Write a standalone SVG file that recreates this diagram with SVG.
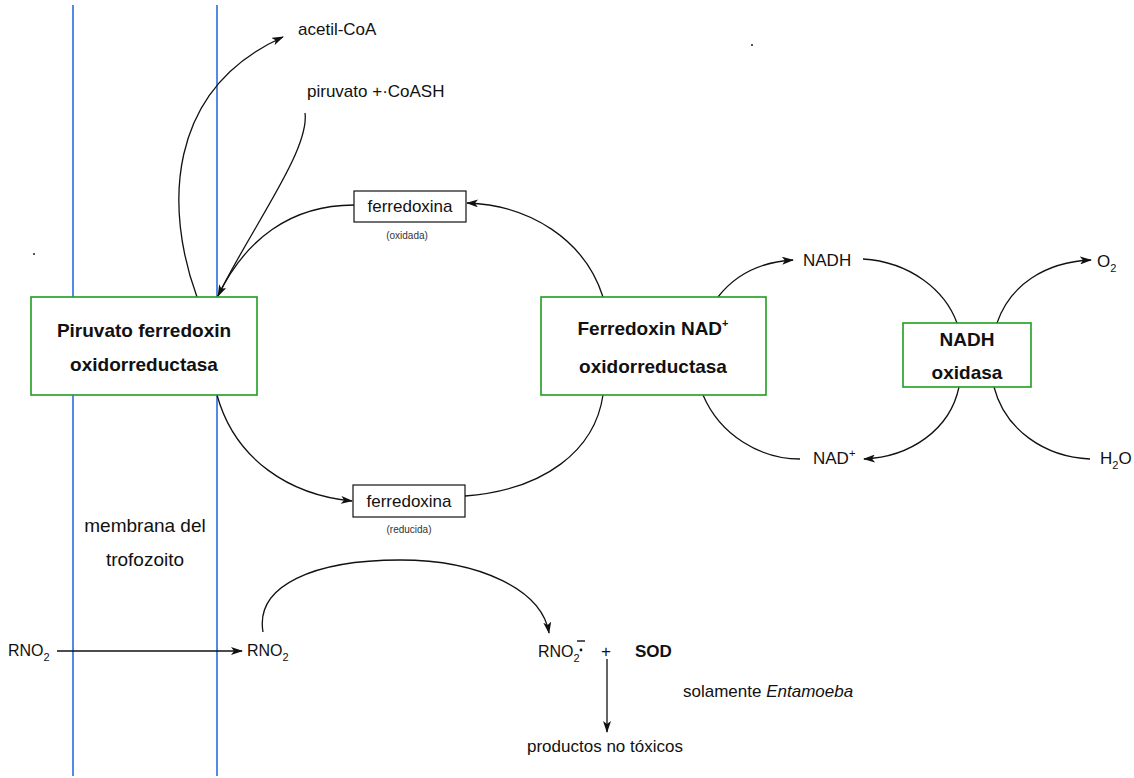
<svg xmlns="http://www.w3.org/2000/svg" width="1134" height="778" viewBox="0 0 1134 778">
<style>
text{font-family:"Liberation Sans",Arial,sans-serif;fill:#111}
.lbl{font-size:17px}
.b{font-size:19px;font-weight:bold;text-anchor:middle}
.sm{font-size:10px;text-anchor:middle;fill:#333}
.sub{font-size:11px}
.box{fill:#fff;stroke:#1e9e1e;stroke-width:1.6}
.fbox{fill:#fff;stroke:#111;stroke-width:1.2}
.mem{stroke:#2a6fdb;stroke-width:1.6}
.c{fill:none;stroke:#111;stroke-width:1.3}
.a{marker-end:url(#ah)}
</style>
<defs>
<marker id="ah" viewBox="0 0 12 8" refX="11" refY="4" markerWidth="12" markerHeight="8" markerUnits="userSpaceOnUse" orient="auto">
<path d="M0,0 L12,4 L0,8 L3,4 z" fill="#111"/>
</marker>
</defs>
<rect width="1134" height="778" fill="#fff"/>
<g id="membrane">
<line class="mem" x1="73" y1="5" x2="73" y2="776"/>
<line class="mem" x1="217" y1="5" x2="217" y2="776"/>
<text class="lbl" x="145" y="532" text-anchor="middle" style="font-size:19px">membrana del</text>
<text class="lbl" x="145" y="566" text-anchor="middle" style="font-size:19px">trofozoito</text>
</g>
<g id="connectors">
<path class="c a" d="M197,297 C165,210 165,90 283,37"/>
<path class="c a" d="M305,113 C310,150 250,230 218,296"/>
<path class="c" d="M354,205 C290,205 245,240 218,296"/>
<path class="c a" d="M603,297 C585,240 530,205 467,203"/>
<path class="c a" d="M217,395 C235,460 290,495 352,501"/>
<path class="c" d="M465,496 C545,490 595,450 603,395"/>
<path class="c a" d="M718,297 C735,275 760,262 793,260"/>
<path class="c" d="M863,259 C910,262 945,290 957,323"/>
<path class="c a" d="M997,323 C1010,285 1045,262 1091,260"/>
<path class="c a" d="M959,387 C950,430 910,457 864,459"/>
<path class="c" d="M994,387 C1005,430 1045,457 1090,459"/>
<path class="c" d="M703,395 C720,435 760,459 800,459"/>
<path class="c a" d="M57,651 L242,651"/>
<path class="c a" d="M263,632 C255,585 315,560 400,560 C480,560 542,590 549,633"/>
<path class="c a" d="M607,659 L607,732"/>
</g>
<g id="pfor">
<rect class="box" x="31" y="297" width="226" height="98"/>
<text class="b" x="144" y="337">Piruvato ferredoxin</text>
<text class="b" x="144" y="371">oxidorreductasa</text>
</g>
<g id="fnor">
<rect class="box" x="541" y="297" width="225" height="98"/>
<text class="b" x="653" y="335">Ferredoxin NAD<tspan style="font-size:11px" dy="-8">+</tspan></text>
<text class="b" x="653" y="373">oxidorreductasa</text>
</g>
<g id="nadhox">
<rect class="box" x="903" y="323" width="128" height="64"/>
<text class="b" x="967" y="346">NADH</text>
<text class="b" x="967" y="379">oxidasa</text>
</g>
<g id="fdox">
<rect class="fbox" x="354" y="191" width="112" height="31"/>
<text class="lbl" x="410" y="212" text-anchor="middle">ferredoxina</text>
<text class="sm" x="407" y="239">(oxidada)</text>
</g>
<g id="fdred">
<rect class="fbox" x="353" y="485" width="112" height="32"/>
<text class="lbl" x="409" y="507" text-anchor="middle">ferredoxina</text>
<text class="sm" x="409" y="533">(reducida)</text>
</g>
<g id="labels">
<text class="lbl" x="298" y="35">acetil-CoA</text>
<text class="lbl" x="307" y="97">piruvato +·CoASH</text>
<text class="lbl" x="803" y="266">NADH</text>
<text class="lbl" x="1097" y="267">O<tspan class="sub" dy="5">2</tspan></text>
<text class="lbl" x="813" y="464">NAD<tspan class="sub" dy="-7">+</tspan></text>
<text class="lbl" x="1100" y="464">H<tspan class="sub" dy="5">2</tspan><tspan dy="-5">O</tspan></text>
<text class="lbl" x="8" y="656" style="font-size:16px">RNO<tspan class="sub" dy="5">2</tspan></text>
<text class="lbl" x="247" y="656" style="font-size:16px">RNO<tspan class="sub" dy="5">2</tspan></text>
<text class="lbl" x="538" y="657" style="font-size:16px">RNO<tspan class="sub" dy="5">2</tspan></text>
<line x1="577" y1="641" x2="585" y2="641" stroke="#111" stroke-width="1.4"/>
<circle cx="581" cy="650" r="1.4" fill="#111"/>
<text class="lbl" x="606" y="657" text-anchor="middle">+</text>
<text class="lbl" x="635" y="657" style="font-weight:bold">SOD</text>
<text class="lbl" x="683" y="697">solamente <tspan font-style="italic">Entamoeba</tspan></text>
<text class="lbl" x="527" y="752">productos no tóxicos</text>
<rect x="751" y="44" width="2" height="2" fill="#555"/>
<rect x="33" y="253" width="2" height="2" fill="#555"/>
</g>
</svg>
